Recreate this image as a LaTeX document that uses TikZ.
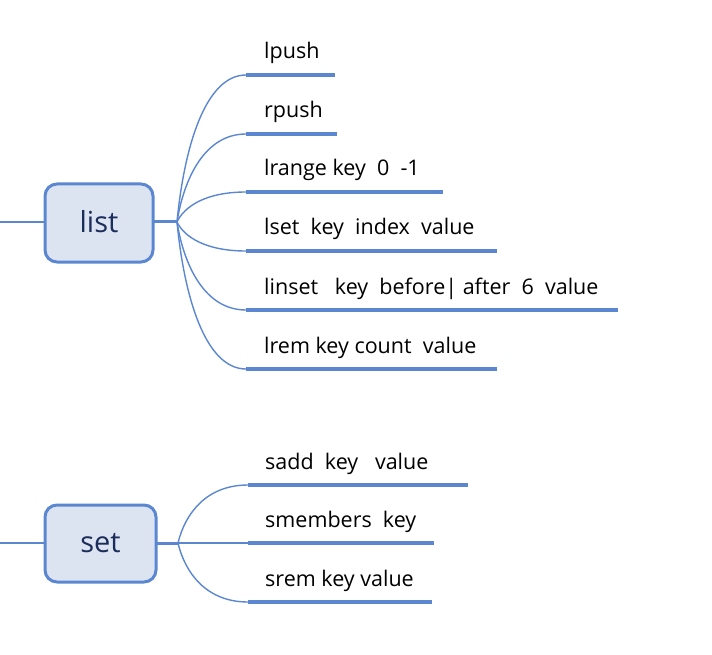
\documentclass[tikz,border=0pt]{standalone}
\usepackage{fontspec}
\setmainfont{Open Sans}
\begin{document}
\begin{tikzpicture}[x=1pt,y=-1pt,
  every node/.style={inner sep=0pt},
  hub/.style={draw=mblue,line width=3pt,fill=mfill,rounded corners=12pt},
  hubtext/.style={text=mnavy,font=\fontsize{29}{34}\selectfont},
  leaf/.style={anchor=base west,font=\fontsize{21.5}{25}\selectfont,text=black},
  uline/.style={draw=mblue,line width=4.5pt},
  branch/.style={draw=mblue,line width=1.4pt},
  stub/.style={draw=mblue,line width=3pt},
  thin/.style={draw=mblue,line width=1.4pt}]
\definecolor{mblue}{RGB}{91,135,209}
\definecolor{mfill}{RGB}{220,228,242}
\definecolor{mnavy}{RGB}{28,45,90}
\useasboundingbox (0,0) rectangle (712,655);
% list hub
\path[hub] (45,184) rectangle (153,262);
\node[hubtext] (list) at (99,222) {list};
\coordinate (lin) at (45,222);
\coordinate (lout) at (153,222);
\coordinate (lL) at (0,222);
\coordinate (lb) at (177,222);
\draw[thin] (lL) -- (lin);
\draw[stub] (lout) -- (lb);
\foreach \y/\x/\t [count=\i] in {75/335/lpush,134/337/rpush,192/443/{lrange key\ \ 0\ \ -1},251/497/{lset\ \ key\ \ index\ \ value},310/618/{linset\ \ \ key\ \ before|\ after\ \ 6\ \ value},369/497/{lrem key count\ \ value}}{
  \coordinate (ls\i) at (246,\y);
  \coordinate (le\i) at (\x,\y);
  \draw[branch] (lb) .. controls (184,{(222+\y)/2}) and (205,\y) .. (ls\i);
  \draw[uline] (ls\i) -- (le\i);
  \node[leaf] (lt\i) at (264,\y-16) {\t};
}
% set hub
\path[hub] (45,505) rectangle (156,582);
\node[hubtext] (set) at (100.5,543) {set};
\coordinate (sin) at (45,543);
\coordinate (sout) at (156,543);
\coordinate (sL) at (0,543);
\coordinate (sb) at (178,543);
\draw[thin] (sL) -- (sin);
\draw[stub] (sout) -- (sb);
\foreach \y/\x/\t [count=\i] in {485/468/{sadd\ \ key\ \ \ value},543/434/{smembers\ \ key},602/432/{srem key value}}{
  \coordinate (ss\i) at (248,\y);
  \coordinate (se\i) at (\x,\y);
  \draw[branch] (sb) .. controls (185,{(543+\y)/2}) and (206,\y) .. (ss\i);
  \draw[uline] (ss\i) -- (se\i);
  \node[leaf] (st\i) at (265,\y-16) {\t};
}
\end{tikzpicture}
\end{document}
